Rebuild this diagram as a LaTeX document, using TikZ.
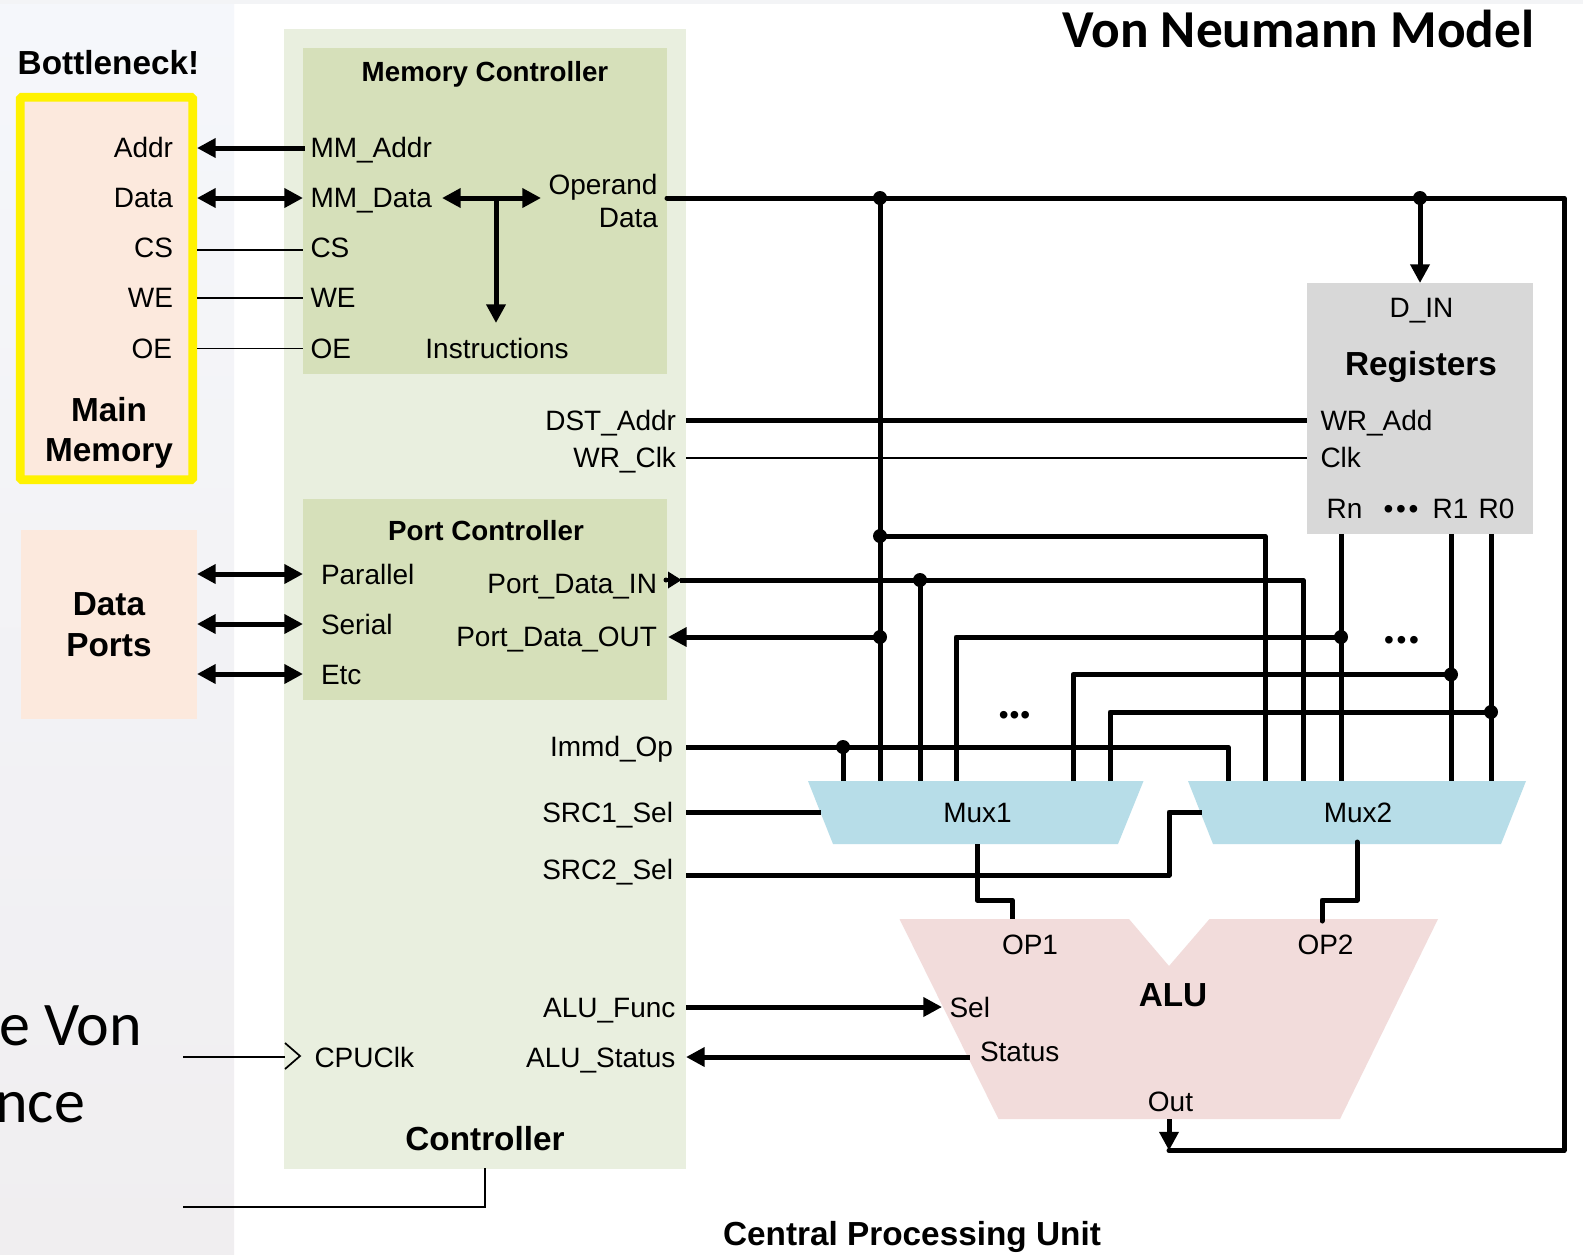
\documentclass[tikz,border=0pt]{standalone}
\usepackage{fontspec}
\setmainfont{Liberation Sans}
\newfontfamily\calfont{Carlito}
\usetikzlibrary{arrows.meta}
\definecolor{panelTop}{HTML}{F5F7FB}
\definecolor{panelBot}{HTML}{F0EEF0}
\definecolor{stripC}{HTML}{F3F4F6}
\definecolor{memC}{HTML}{FCE9DD}
\definecolor{ctrlC}{HTML}{E9EFDF}
\definecolor{subC}{HTML}{D6E0BA}
\definecolor{regC}{HTML}{D8D8D8}
\definecolor{muxC}{HTML}{B7DDE8}
\definecolor{aluC}{HTML}{F2DCDB}
\tikzset{
  area/.style={anchor=north west,inner sep=0pt,outer sep=0pt,draw=none,text width=,align=center},
  lbl/.style={inner sep=0pt,outer sep=0pt,font=\fontsize{21}{25}\selectfont},
  lblE/.style={lbl,anchor=base east},
  lblW/.style={lbl,anchor=base west},
  lblC/.style={lbl,anchor=base},
  head/.style={inner sep=0pt,outer sep=0pt,anchor=base,font=\fontsize{25}{30}\selectfont\bfseries},
  subhead/.style={inner sep=0pt,outer sep=0pt,anchor=base,font=\fontsize{20.8}{25}\selectfont\bfseries},
  big/.style={inner sep=0pt,outer sep=0pt,anchor=base east,font=\fontsize{46.5}{54}\selectfont\calfont},
  titlefont/.style={inner sep=0pt,outer sep=0pt,anchor=base,font=\fontsize{40}{48}\selectfont\calfont\bfseries},
  bus/.style={line width=3.75pt,line join=round,line cap=butt,draw=black},
  wire/.style={line width=1.3pt,line join=miter,draw=black},
  tipR/.style={bus,-{Triangle[length=14pt,width=14pt]}},
  tipL/.style={bus,{Triangle[length=14pt,width=14pt]}-},
  tipB/.style={bus,{Triangle[length=14pt,width=14pt]}-{Triangle[length=14pt,width=14pt]}},
}
\newcommand{\dotat}[1]{\fill[black] (#1) circle[radius=7];}
\begin{document}
\begin{tikzpicture}[x=0.75pt,y=-0.75pt]
\useasboundingbox (0,0) rectangle (1583,1254);
% page backgrounds
\fill[white] (0,0) rectangle (1583,1254);
\shade[top color=panelTop,bottom color=panelBot] (0,0) rectangle (234,1254);
\fill[stripC] (0,0) rectangle (1583,4);
% boxes
\node[area,fill=ctrlC,minimum width={402*0.75pt},minimum height={1140*0.75pt}] (ctrl) at (284,29) {};
\node[area,fill=subC,minimum width={364*0.75pt},minimum height={326*0.75pt}] (memctrl) at (303,48) {};
\node[area,fill=subC,minimum width={364*0.75pt},minimum height={201*0.75pt}] (portctrl) at (303,499) {};
\node[area,fill=memC,draw=yellow,line width=6.4pt,rounded corners=1pt,minimum width={172.5*0.75pt},minimum height={382.5*0.75pt}] (mainmem) at (20.25,97.25) {};
\node[area,fill=memC,minimum width={176*0.75pt},minimum height={189*0.75pt}] (ports) at (21,530) {};
\node[area,fill=regC,minimum width={226*0.75pt},minimum height={251*0.75pt}] (regs) at (1307,283) {};
\fill[muxC] (808,781) -- (1143.5,781) -- (1118,844) -- (833,844) -- cycle;
\fill[muxC] (1188,781) -- (1526,781) -- (1501,844) -- (1213,844) -- cycle;
\fill[aluC] (899.5,919) -- (1129,919) -- (1169,966) -- (1209.5,919) -- (1438,919) -- (1340,1119) -- (998.5,1119) -- cycle;
% junctions and free ends
\coordinate (opA) at (667,198);
\coordinate (jA) at (880,198);
\coordinate (jB) at (1420,198);
\coordinate (cTR) at (1564,198);
\coordinate (cBR) at (1564,1150.5);
\coordinate (cBM) at (1169,1150.5);
\coordinate (aluOut) at (1169,1119);
\coordinate (regIn) at (1420,283);
\coordinate (jC) at (880,536);
\coordinate (jD) at (920,580);
\coordinate (jE) at (880,637);
\coordinate (jF) at (1341,637);
\coordinate (jG) at (1451,674.5);
\coordinate (jH) at (1491,712);
\coordinate (jI) at (843,747);
% left side links
\draw[tipL] (197,148) -- (305,148);
\draw[tipB] (197,198) -- (303,198);
\draw[wire] (197,250) -- (303,250);
\draw[wire] (197,298) -- (303,298);
\draw[wire] (197,348.5) -- (303,348.5);
\draw[tipB] (442,198) -- (541,198);
\coordinate (jM) at (496,198);
\draw[tipR] (jM) -- (496,323);
\draw[tipB] (197,574) -- (303,574);
\draw[tipB] (197,624) -- (303,624);
\draw[tipB] (197,674) -- (303,674);
% result bus
\draw[bus,line cap=round] (opA) -- (cTR) -- (cBR) -- (cBM);
\draw[tipR] (aluOut) -- (cBM);
\draw[tipR] (jB) -- (regIn);
\draw[bus] (jA) -- (880,781);
\draw[bus] (jC) -- (1265,536) -- (1265,781);
% register control
\draw[bus] (686,420.5) -- (1307,420.5);
\draw[wire] (686,458) -- (1307,458);
% port data
\fill[black] (668,571.5) -- (681.5,580) -- (668,588.5) -- cycle;
\fill[black] (666,580) circle[radius=2.5];
\draw[bus] (680,580) -- (1303,580) -- (1303,781);
\draw[bus] (jD) -- (920,781);
\draw[tipL] (668,637) -- (jE);
\draw[bus] (956,781) -- (956,637) -- (jF);
% registers to muxes
\draw[bus] (1341,534) -- (1341,781);
\draw[bus] (1451,534) -- (1451,781);
\draw[bus] (1491,534) -- (1491,781);
\draw[bus] (1073,781) -- (1073,674.5) -- (jG);
\draw[bus] (1110,781) -- (1110,712) -- (jH);
% immediate
\draw[bus] (686,747) -- (1228,747) -- (1228,781);
\draw[bus] (jI) -- (843,781);
% selects
\draw[bus] (686,812) -- (821,812);
\draw[bus] (686,875) -- (1169,875) -- (1169,812) -- (1202,812);
% mux outputs
\draw[bus] (977,844) -- (977,900) -- (1012,900) -- (1012,919);
\draw[bus,line cap=round] (1357,842) -- (1357,900) -- (1322,900) -- (1322,921);
% ALU links
\draw[tipR] (686,1007) -- (942,1007);
\draw[tipL] (686,1057) -- (970,1057);
% clock
\draw[wire] (183,1057) -- (285,1057);
\draw[wire] (285,1043) -- (300,1056) -- (285,1069);
\draw[wire] (ctrl.south) ++(0,-1) -- (485,1207) -- (183,1207);
% dots
\dotat{jA}\dotat{jB}\dotat{jC}\dotat{jD}\dotat{jE}\dotat{jF}\dotat{jG}\dotat{jH}\dotat{jI}
% texts
\node[titlefont] (title) at (1298.5,47) {Von Neumann Model};
\node[head] (bott) at (108.5,74) {Bottleneck!};
\node[lblE] (mAddr) at (173,157.5) {Addr};
\node[lblE] (mData) at (173,207.5) {Data};
\node[lblE] (mCS) at (173,257) {CS};
\node[lblE] (mWE) at (173,307) {WE};
\node[lblE] (mOE) at (172,358) {OE};
\node[head] (mm1) at (109,421) {Main};
\node[head] (mm2) at (109,461) {Memory};
\node[head] (dp1) at (109,615) {Data};
\node[head] (dp2) at (109,656) {Ports};
\node[subhead] (mct) at (485,81.5) {Memory Controller};
\node[lblW] (cAddr) at (310.5,157) {MM\_Addr};
\node[lblW] (cData) at (310.5,207) {MM\_Data};
\node[lblW] (cCS) at (310.5,257) {CS};
\node[lblW] (cWE) at (310.5,307) {WE};
\node[lblW] (cOE) at (310.5,358) {OE};
\node[lblE] (oper) at (657.5,194) {Operand};
\node[lblE] (operD) at (658,227) {Data};
\node[lblC] (instr) at (497,358) {Instructions};
\node[lblE] (dst) at (676,430) {DST\_Addr};
\node[lblE] (wrc) at (676,467) {WR\_Clk};
\node[subhead] (pct) at (486,540) {Port Controller};
\node[lblW] (pPar) at (321,584) {Parallel};
\node[lblW] (pSer) at (321,634) {Serial};
\node[lblW] (pEtc) at (321,684) {Etc};
\node[lblE] (pIn) at (657,593) {Port\_Data\_IN};
\node[lblE] (pOut) at (657,646) {Port\_Data\_OUT};
\node[lblE] (imm) at (673,756) {Immd\_Op};
\node[lblE] (s1) at (673,822.5) {SRC1\_Sel};
\node[lblE] (s2) at (673,879) {SRC2\_Sel};
\node[lblE] (af) at (675.5,1017) {ALU\_Func};
\node[lblE] (as) at (675.5,1067) {ALU\_Status};
\node[lblW] (cpu) at (314.5,1067) {CPUClk};
\node[head] (cttl) at (485,1150) {Controller};
\node[lblC] (din) at (1421.5,317.5) {D\_IN};
\node[head] (rttl) at (1421,375) {Registers};
\node[lblW] (wra) at (1320.5,430.5) {WR\_Add};
\node[lblW] (rclk) at (1320.5,467) {Clk};
\node[lblC] (rn) at (1344.5,518) {Rn};
\node[lblC] (rdots) at (1401,518.5) {•\kern2pt•\kern2pt•};
\node[lblC] (r1) at (1450.5,518) {R1};
\node[lblC] (r0) at (1496.5,518) {R0};
\node[lblC] (d1) at (1014.5,724) {•\kern0.7pt•\kern0.7pt•};
\node[lblC] (d2) at (1401.5,649) {•\kern2pt•\kern2pt•};
\node[lblC] (mux1) at (977.5,822) {Mux1};
\node[lblC] (mux2) at (1358,822) {Mux2};
\node[lblC] (op1) at (1030,954) {OP1};
\node[lblC] (op2) at (1325.5,954) {OP2};
\node[head] (alu) at (1173,1006) {ALU};
\node[lblW] (sel) at (949.5,1017) {Sel};
\node[lblW] (stat) at (980,1061) {Status};
\node[lblC] (out) at (1170.5,1111) {Out};
\node[head] (cpuName) at (912,1245) {Central Processing Unit};
\node[big] (lost1) at (142,1045) {e Von};
\node[big] (lost2) at (85,1122) {nce};
\end{tikzpicture}
\end{document}
